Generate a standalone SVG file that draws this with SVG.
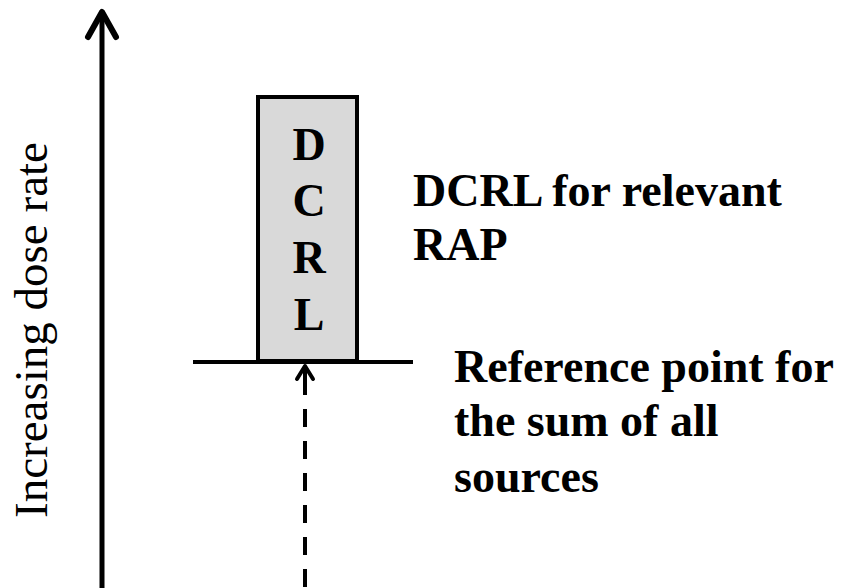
<svg xmlns="http://www.w3.org/2000/svg" width="843" height="588" viewBox="0 0 843 588">
<style>
.bold{font-family:"Liberation Serif","Times New Roman",serif;font-weight:bold;font-size:46px;fill:#000}
.box{font-family:"Liberation Serif","Times New Roman",serif;font-weight:bold;font-size:46px;fill:#000}
.reg{font-family:"Liberation Serif","Times New Roman",serif;font-size:47px;fill:#000}
.ln{stroke:#000;fill:none;stroke-linecap:round;stroke-linejoin:round}
</style>
<rect width="843" height="588" fill="#fff"/>
<g id="axis">
<line class="ln" x1="102" y1="588" x2="102" y2="12" stroke-width="5"/>
<polyline class="ln" points="88,37 102,12 116,37" stroke-width="6"/>
<text class="reg" transform="translate(47,330) rotate(-90)" text-anchor="middle">Increasing dose rate</text>
</g>
<g id="dcrl">
<rect x="258" y="97" width="99" height="264" fill="#d9d9d9" stroke="#000" stroke-width="4"/>
<text class="box" x="309" y="160" text-anchor="middle">D</text>
<text class="box" x="309" y="216" text-anchor="middle">C</text>
<text class="box" x="309" y="273" text-anchor="middle">R</text>
<text class="box" x="309" y="330" text-anchor="middle">L</text>
</g>
<g id="reference-line">
<line x1="193" y1="362" x2="413" y2="362" stroke="#000" stroke-width="4"/>
</g>
<g id="connectors">
<line x1="305" y1="368" x2="305" y2="588" stroke="#000" stroke-width="4" stroke-dasharray="18 14" stroke-dashoffset="-9"/>
<line x1="305" y1="366" x2="305" y2="383" stroke="#000" stroke-width="4"/>
<polyline class="ln" points="297,379 305,366 313,379" stroke-width="4"/>
</g>
<g id="label-dcrl">
<text class="bold" x="413" y="206">DCRL for relevant</text>
<text class="bold" x="413" y="260">RAP</text>
</g>
<g id="label-reference">
<text class="bold" x="454" y="382">Reference point for</text>
<text class="bold" x="454" y="436">the sum of all</text>
<text class="bold" x="454" y="492">sources</text>
</g>
</svg>
